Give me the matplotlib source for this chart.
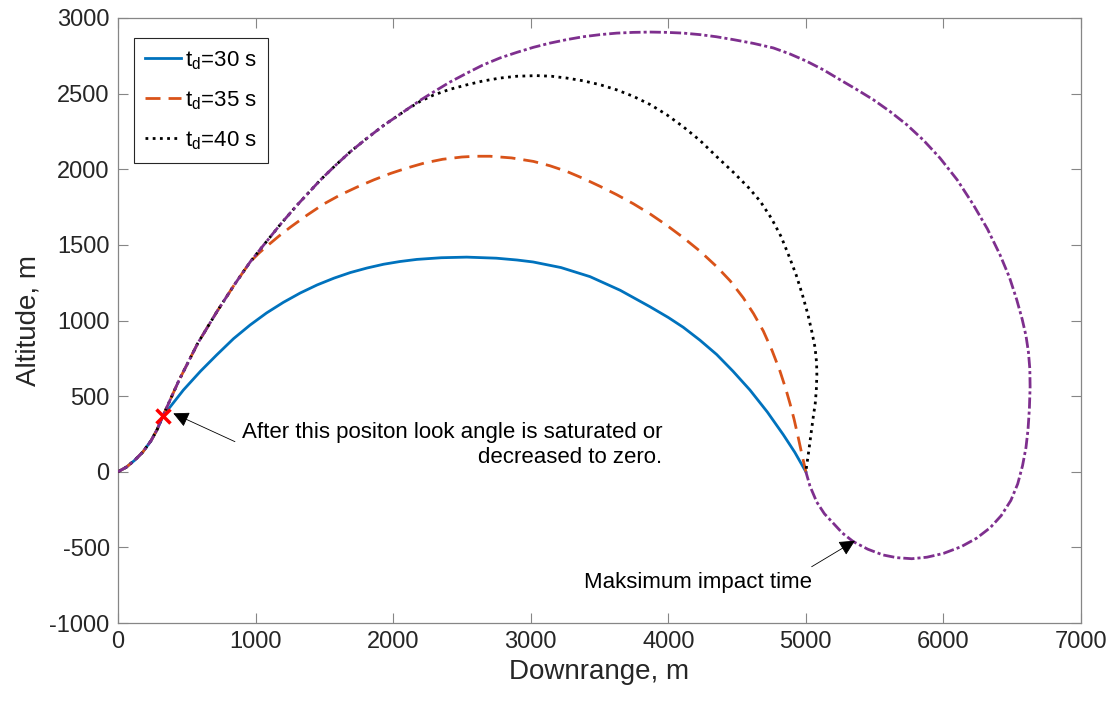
import numpy as np
import matplotlib
matplotlib.use('Agg')
import matplotlib.pyplot as plt

plt.rcParams['font.family'] = ['Liberation Sans', 'DejaVu Sans']
plt.rcParams['axes.unicode_minus'] = False

# trajectory pieces (downrange m, altitude m)
# common start for all four runs, ends at the marked position
common_x = [0, 60, 120, 180, 240, 285, 325]
common_y = [0, 30, 75, 130, 205, 280, 366]
# shared by td=35, td=40 and the max-impact run
shared_b_x = [441, 580, 720, 841, 962]
shared_b_y = [600, 850, 1060, 1230, 1389]
# shared by td=40 and the max-impact run
shared_c_x = [1059, 1180, 1301, 1471, 1580, 1689, 1810, 1931, 2100]
shared_c_y = [1499, 1635, 1762, 1929, 2025, 2116, 2205, 2290, 2395]

blue_x = [475, 600, 717, 840, 960, 1080, 1202, 1325, 1447, 1570, 1689, 1810,
          1931, 2050, 2173, 2350, 2535, 2750, 2900, 3017, 3220, 3431, 3650,
          3867, 4000, 4109, 4230, 4352, 4470, 4594, 4720, 4836, 4920, 5000]
blue_y = [540, 665, 772, 880, 970, 1050, 1120, 1182, 1235, 1280, 1317, 1347,
          1372, 1390, 1404, 1415, 1419, 1412, 1400, 1387, 1350, 1290, 1200,
          1091, 1020, 955, 870, 775, 665, 540, 395, 245, 128, 0]

orange_x = [1030, 1100, 1175, 1253, 1375, 1495, 1615, 1737, 1860, 1980, 2100,
            2230, 2360, 2500, 2600, 2704, 2860, 3019, 3140, 3261, 3380, 3504,
            3625, 3746, 3867, 3988, 4109, 4231, 4352, 4450, 4545, 4620, 4691,
            4755, 4812, 4855, 4885, 4915, 4945, 4970, 4990, 5000]
orange_y = [1450, 1505, 1562, 1617, 1697, 1770, 1830, 1882, 1930, 1972, 2008,
            2042, 2066, 2081, 2086, 2086, 2075, 2052, 2023, 1986, 1940, 1887,
            1832, 1772, 1705, 1630, 1548, 1458, 1356, 1262, 1150, 1045, 930,
            800, 665, 545, 450, 345, 225, 120, 40, 0]

black_x = [2195, 2292, 2410, 2535, 2650, 2777, 2900, 3043, 3150, 3261, 3380,
           3504, 3625, 3746, 3870, 3988, 4110, 4231, 4350, 4473, 4582, 4667,
           4750, 4820, 4880, 4930, 4975, 5015, 5045, 5067, 5078, 5080, 5076,
           5068, 5054, 5036, 5020, 5006, 5000]
black_y = [2448, 2490, 2528, 2558, 2583, 2603, 2615, 2619, 2615, 2603, 2585,
           2559, 2525, 2482, 2427, 2361, 2280, 2190, 2085, 1980, 1880, 1790,
           1675, 1555, 1420, 1300, 1170, 1040, 920, 820, 720, 640, 540,
           450, 364, 240, 130, 40, 0]

purple_x = [2195, 2292, 2410, 2535, 2650, 2777, 2900, 3019, 3140, 3261, 3380,
            3504, 3625, 3746, 3870, 3988, 4110, 4231, 4350, 4473, 4620, 4764,
            4885, 5006, 5130, 5248, 5370, 5490, 5610, 5733, 5855, 5975, 6100,
            6217, 6320, 6411, 6480, 6532, 6572, 6600, 6618, 6628, 6630, 6625,
            6615, 6600, 6575, 6540, 6490, 6420, 6340, 6240, 6130, 6000, 5880,
            5770, 5660, 5560, 5450, 5345, 5265, 5200, 5135, 5079, 5030, 5000]
purple_y = [2455, 2510, 2575, 2635, 2688, 2736, 2773, 2806, 2834, 2857, 2876,
            2890, 2900, 2905, 2907, 2905, 2900, 2890, 2876, 2857, 2832, 2802,
            2762, 2714, 2656, 2592, 2527, 2460, 2383, 2295, 2192, 2074, 1930,
            1766, 1605, 1435, 1285, 1140, 1010, 900, 790, 680, 560, 420,
            280, 160, 40, -80, -190, -290, -370, -440, -495, -540, -565,
            -575, -568, -550, -512, -462, -405, -341, -278, -200, -95, 0]

mark_x, mark_y = 325, 366

labels = ['$\\mathregular{t_d}$=30 s', '$\\mathregular{t_d}$=35 s',
          '$\\mathregular{t_d}$=40 s']

fig = plt.figure(figsize=(11.17, 7.04), dpi=100)
ax = fig.add_axes([118 / 1117, 1 - 623 / 704, 963 / 1117, 605 / 704])

lw = 2.0
bx = common_x + blue_x
by = common_y + blue_y
ox = common_x + shared_b_x + orange_x
oy = common_y + shared_b_y + orange_y
kx = common_x + shared_b_x + shared_c_x + black_x
ky = common_y + shared_b_y + shared_c_y + black_y
px = common_x + shared_b_x + shared_c_x + purple_x
py = common_y + shared_b_y + shared_c_y + purple_y

ax.plot(bx, by, color='#0072BD', lw=lw, label=labels[0], zorder=2)
ax.plot(ox, oy, color='#D95319', lw=lw, ls=(0, (5.4, 2.9)), label=labels[1], zorder=3)
ax.plot(kx, ky, color='black', lw=lw, ls=(0, (1.0, 1.6)), label=labels[2], zorder=4)
ax.plot(px, py, color='#7E2F8E', lw=lw, ls=(0, (4.0, 1.1, 1.1, 1.1)), zorder=5)
ax.plot(mark_x, mark_y, 'x', color='red', ms=10, mew=2.5, zorder=6)

# annotations
ax.annotate('', xy=(402, 386), xytext=(850, 199),
            arrowprops=dict(arrowstyle='-|>', color='black', lw=0.6,
                            mutation_scale=24, shrinkA=0, shrinkB=0), zorder=7)
ax.text(899, 180, 'After this positon look angle is saturated or\ndecreased to zero.',
        ha='left', va='center', multialignment='right', fontsize=16,
        linespacing=1.25, color='black')
ax.annotate('', xy=(5357, -456), xytext=(5042, -628),
            arrowprops=dict(arrowstyle='-|>', color='black', lw=0.6,
                            mutation_scale=24, shrinkA=0, shrinkB=0), zorder=7)
ax.text(5043, -735, 'Maksimum impact time', ha='right', va='center',
        fontsize=16, color='black')

ax.set_xlim(0, 7000)
ax.set_ylim(-1000, 3000)
ax.set_xticks(np.arange(0, 7001, 1000))
ax.set_yticks(np.arange(-1000, 3001, 500))
ax.tick_params(direction='in', length=7, width=0.8, color='#868686',
               labelsize=17, labelcolor='#262626', top=True, right=True, pad=6)
for s in ax.spines.values():
    s.set_color('#868686')
    s.set_linewidth(0.9)

ax.set_xlabel('Downrange, m', fontsize=20, color='#262626', labelpad=4)
ax.set_ylabel('Altitude, m', fontsize=20, color='#262626', labelpad=6)

leg = ax.legend(loc='upper left', bbox_to_anchor=(0.0166, 0.967), borderaxespad=0,
                fontsize=16, handlelength=1.6, handletextpad=0.2,
                labelspacing=0.78, borderpad=0.5, fancybox=False, framealpha=1)
leg.get_frame().set_edgecolor('#262626')
leg.get_frame().set_linewidth(0.8)

fig.savefig('out.png', dpi=100)
